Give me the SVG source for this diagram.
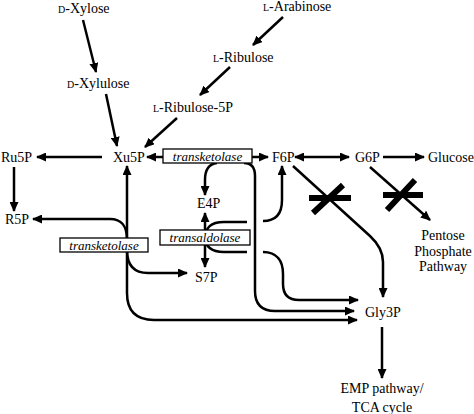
<svg xmlns="http://www.w3.org/2000/svg" width="474" height="414" viewBox="0 0 474 414">
<style>
text{font-family:'Liberation Serif',serif;font-size:14px;fill:#000}
.t{font-family:'Liberation Serif',serif;font-size:14px}
.sc{font-size:10px}
.en{font-family:'Liberation Serif',serif;font-style:italic;font-size:13px}
.m{text-anchor:middle}
.c{fill:none;stroke:#000;stroke-width:2.5}
.a{marker-end:url(#ah)}
.b{marker-start:url(#ah);marker-end:url(#ah)}
.x{fill:none;stroke:#000;stroke-width:6}
.box{fill:#fff;stroke:#000;stroke-width:1.3}
</style>
<defs>
<marker id="ah" markerUnits="userSpaceOnUse" markerWidth="10" markerHeight="9" refX="9" refY="4.5" orient="auto-start-reverse" viewBox="0 0 10 9">
<path d="M0,0 L10,4.5 L0,9 z" fill="#000"/>
</marker>
</defs>
<rect width="474" height="414" fill="#fff"/>
<g id="connectors">
<path class="c a" d="M83 20 L96 72"/>
<path class="c a" d="M106 94 L117 146"/>
<path class="c a" d="M283 17 L253 45"/>
<path class="c a" d="M230 67 L200 95"/>
<path class="c a" d="M177 118 L145 147"/>
<path class="c a" d="M102 157 L37 157"/>
<path class="c a" d="M163 157 L147 157"/>
<path class="c a" d="M252 157 L268 157"/>
<path class="c b" d="M295 157 L349 157"/>
<path class="c a" d="M383 157 L424 157"/>
<path class="c a" d="M14 167 L14 211"/>
<path class="c a" d="M217 163 C208 164 205 170 205 180 L205 195"/>
<path class="c a" d="M205 232 L205 213"/>
<path class="c a" d="M205 243 L205 267"/>
<path class="c" d="M205 240 C205 227 211 222 224 222 L247 222"/>
<path class="c" d="M205 236 C205 247 211 252 224 252 L247 252"/>
<path class="c a" d="M263 221 C277 221 282 213 282 200 L282 166"/>
<path class="c a" d="M263 252 C277 252 283 261 283 274 L283 284 Q283 300 299 300 L358 300"/>
<path class="c a" d="M244 163 Q255 163 255 176 L255 291 Q255 311 275 311 L354 311"/>
<path class="c b" d="M127 166 L127 293 Q127 320 154 320 L357 320"/>
<path class="c a" d="M127 240 C127 226 122 219 110 219 L33 219"/>
<path class="c a" d="M127 250 C127 265 134 273 148 273 L187 273"/>
<path class="c a" d="M293 166 L370 236 Q383 248 383 262 L383 297"/>
<path class="c a" d="M370 167 L430 220"/>
<path class="c a" d="M382 327 L382 378"/>
<path class="x" d="M309 198 L351 198 M313 213 L343 185"/>
<path class="x" d="M383 195 L423 195 M387 210 L415 180"/>
</g>
<g id="dxylose"><text class="t" x="58" y="13"><tspan class="sc">D</tspan>-Xylose</text></g>
<g id="dxylulose"><text class="t" x="67" y="88"><tspan class="sc">D</tspan>-Xylulose</text></g>
<g id="larabinose"><text class="t" x="263" y="11"><tspan class="sc">L</tspan>-Arabinose</text></g>
<g id="lribulose"><text class="t" x="213" y="62"><tspan class="sc">L</tspan>-Ribulose</text></g>
<g id="lribulose5p"><text class="t" x="153" y="112"><tspan class="sc">L</tspan>-Ribulose-5P</text></g>
<g id="ru5p"><text class="t" x="1" y="162">Ru5P</text></g>
<g id="xu5p"><text class="t" x="113" y="162">Xu5P</text></g>
<g id="f6p"><text class="t" x="272" y="162">F6P</text></g>
<g id="g6p"><text class="t" x="355" y="162">G6P</text></g>
<g id="glucose"><text class="t" x="428" y="162">Glucose</text></g>
<g id="r5p"><text class="t" x="5" y="224">R5P</text></g>
<g id="e4p"><text class="t" x="197" y="208">E4P</text></g>
<g id="s7p"><text class="t" x="195" y="282">S7P</text></g>
<g id="gly3p"><text class="t" x="365" y="317">Gly3P</text></g>
<g id="ppp"><text class="t m" x="443" y="240">Pentose</text><text class="t m" x="443" y="256">Phosphate</text><text class="t m" x="443" y="271">Pathway</text></g>
<g id="emp"><text class="t m" x="382" y="393">EMP pathway/</text><text class="t m" x="382" y="412">TCA cycle</text></g>
<g id="transketolase1"><rect class="box" x="163" y="149" width="89" height="14"/><text class="en m" x="207.5" y="160.5">transketolase</text></g>
<g id="transketolase2"><rect class="box" x="60" y="238" width="88" height="14"/><text class="en m" x="104" y="249.5">transketolase</text></g>
<g id="transaldolase"><rect class="box" x="160" y="230" width="90" height="15"/><text class="en m" x="205" y="242">transaldolase</text></g>
</svg>
